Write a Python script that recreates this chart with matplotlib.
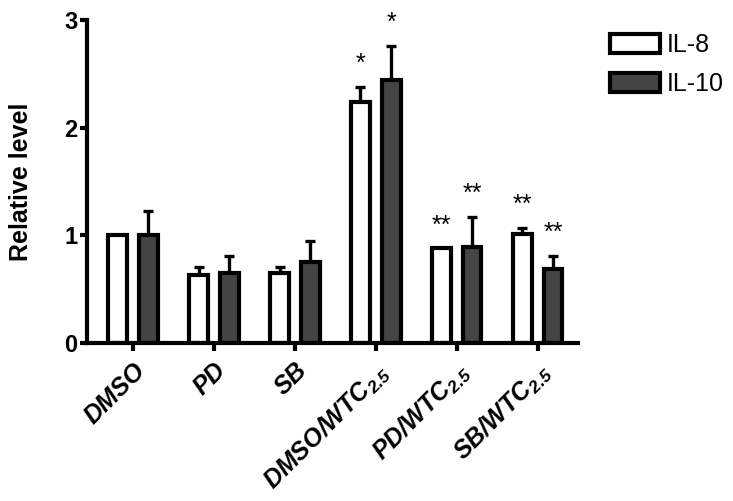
import numpy as np
import matplotlib
matplotlib.use('Agg')
import matplotlib.pyplot as plt

plt.rcParams['font.family'] = ['Liberation Sans', 'DejaVu Sans']
plt.rcParams['mathtext.fontset'] = 'custom'
plt.rcParams['mathtext.rm'] = 'Liberation Sans:bold:italic'
plt.rcParams['mathtext.it'] = 'Liberation Sans:bold:italic'
plt.rcParams['mathtext.bf'] = 'Liberation Sans:bold:italic'

# data
groups = ['DMSO', 'PD', 'SB', 'DMSO/WTC$_{2.5}$', 'PD/WTC$_{2.5}$', 'SB/WTC$_{2.5}$']
il8 = [1.0, 0.63, 0.65, 2.24, 0.88, 1.01]
il8_err = [0.0, 0.08, 0.06, 0.14, 0.0, 0.06]
il10 = [1.0, 0.65, 0.75, 2.44, 0.89, 0.69]
il10_err = [0.23, 0.16, 0.20, 0.32, 0.28, 0.12]
il8_sig = ['', '', '', '*', '**', '**']
il10_sig = ['', '', '', '*', '**', '**']

x = np.arange(len(groups))
w = 0.23
off = 0.19

fig = plt.figure(figsize=(7.33, 5.01), dpi=100)
ax = fig.add_axes([0.1187, 0.3154, 0.67, 0.6447])

lw = 3.0
zero = np.zeros(len(groups))
ekw = dict(elinewidth=2.4, capthick=2.4, ecolor='black', zorder=1)
ax.bar(x - off, il8, w, color='white', edgecolor='black', linewidth=lw,
       yerr=[zero, il8_err], capsize=3.6, error_kw=ekw,
       label='IL-8', zorder=2)
ax.bar(x + off, il10, w, color='#444444', edgecolor='black', linewidth=lw,
       yerr=[zero, il10_err], capsize=3.6, error_kw=ekw,
       label='IL-10', zorder=2)

# significance stars
for i in range(len(groups)):
    if il8_sig[i]:
        ax.text(x[i] - off, il8[i] + il8_err[i] + 0.10, il8_sig[i], ha='center',
                va='bottom', fontsize=18, clip_on=False)
    if il10_sig[i]:
        ax.text(x[i] + off, il10[i] + il10_err[i] + 0.10, il10_sig[i], ha='center',
                va='bottom', fontsize=18, clip_on=False)

ax.set_xlim(-0.57, 5.5)
ax.set_ylim(0, 3)
ax.set_yticks([0, 1, 2, 3])
ax.set_yticklabels(['0', '1', '2', '3'], fontsize=17, fontweight='bold')
ax.set_xticks(x)
ax.set_xticklabels(groups, rotation=45, ha='right', rotation_mode='anchor',
                   fontsize=18, fontweight='bold', style='italic')
ax.set_ylabel('Relative level', fontsize=18, fontweight='bold', labelpad=22)

for s in ['top', 'right']:
    ax.spines[s].set_visible(False)
for s in ['left', 'bottom']:
    ax.spines[s].set_linewidth(3.0)
ax.tick_params(axis='both', width=3.0, length=5, pad=2)
ax.tick_params(axis='x', length=6, pad=5)

ax.legend(loc='upper left', bbox_to_anchor=(1.045, 0.99), frameon=False,
          fontsize=18, handlelength=2.0, handleheight=0.8, handletextpad=0.25,
          labelspacing=0.6, borderaxespad=0)

fig.savefig('out.png', dpi=100)
